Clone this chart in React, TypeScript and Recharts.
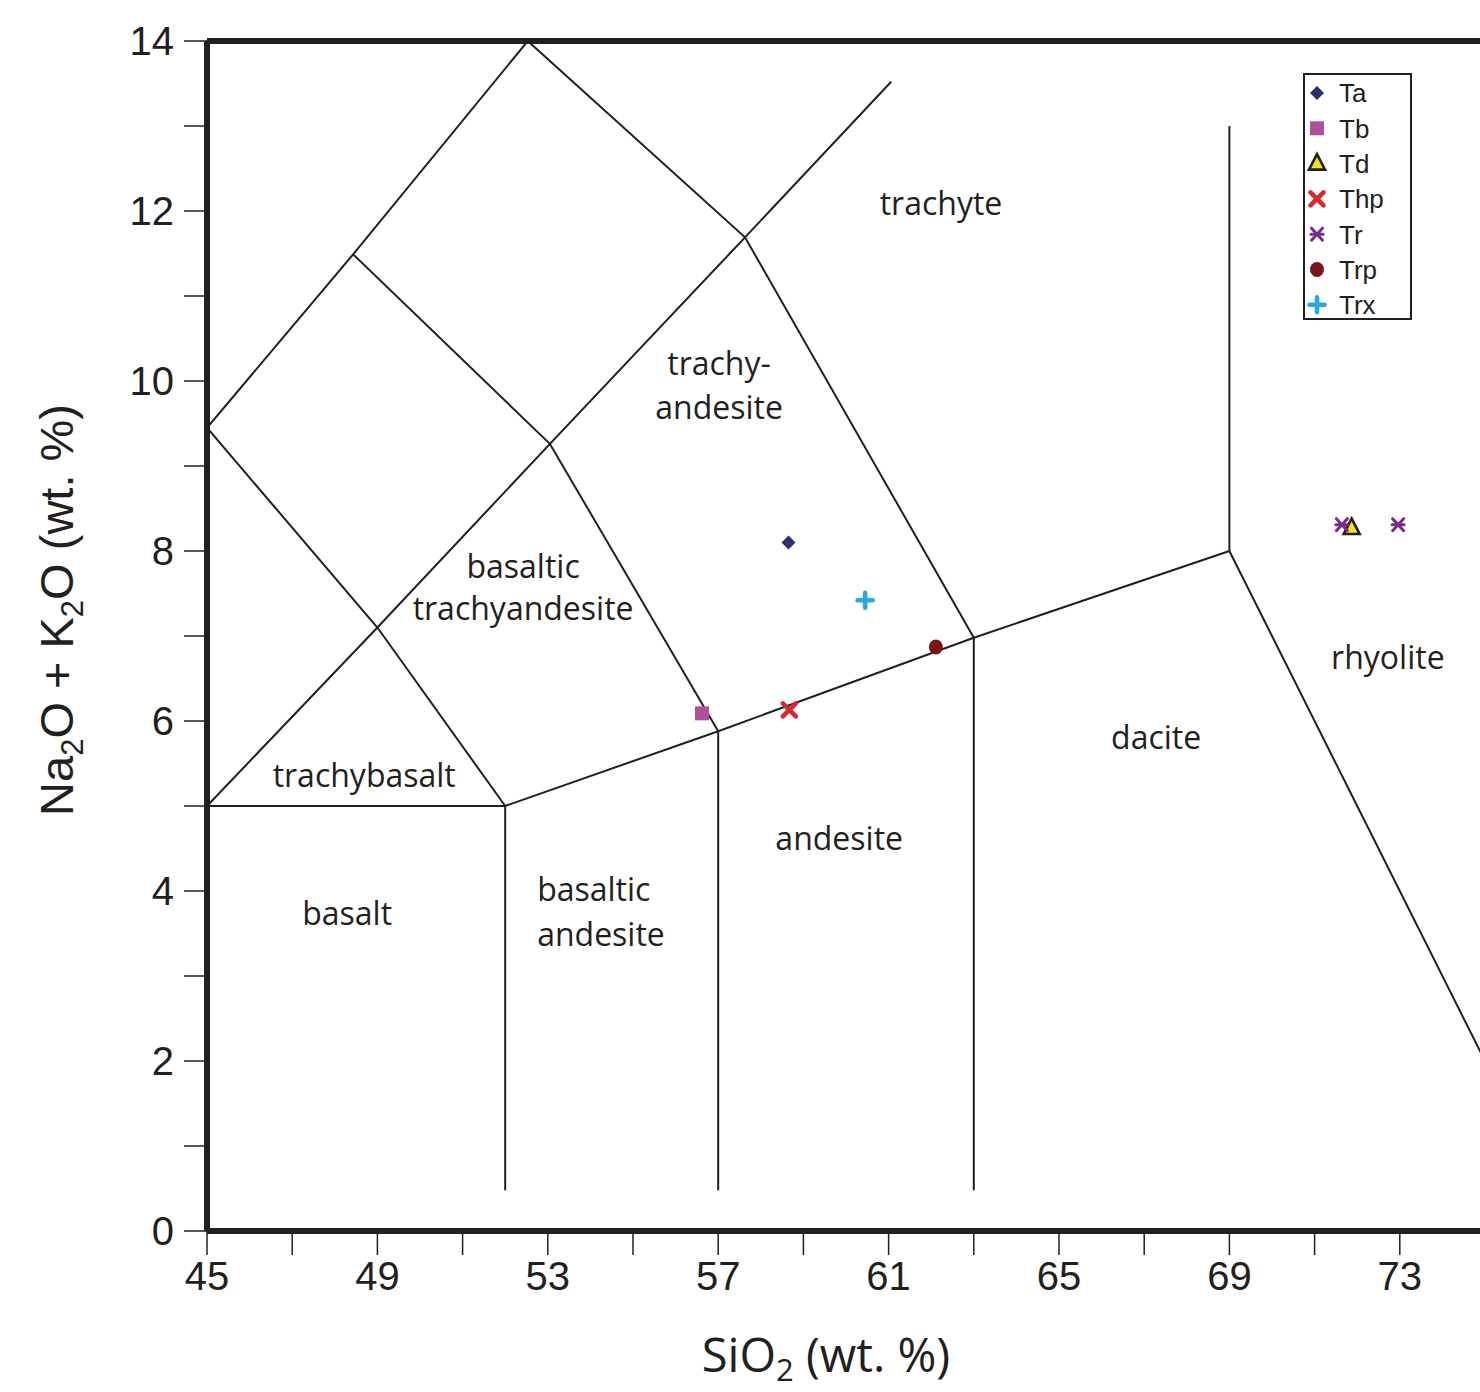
import React from 'react';
import { ScatterChart, Scatter, XAxis, YAxis, ReferenceLine, Legend } from 'recharts';

const INK = '#231f20';
const SANS = '"Liberation Sans", Arial, Helvetica, sans-serif';
const HUMANIST = '"Open Sans", "Noto Sans", sans-serif';

// ---- axis ticks ----
const xTicks = [45, 47, 49, 51, 53, 55, 57, 59, 61, 63, 65, 67, 69, 71, 73, 75];
const xTickLabels = [45, 49, 53, 57, 61, 65, 69, 73];
const yTicks = [0, 1, 2, 3, 4, 5, 6, 7, 8, 9, 10, 11, 12, 13, 14];
const yTickLabels = [0, 2, 4, 6, 8, 10, 12, 14];

// ---- TAS field boundaries (SiO2, Na2O+K2O) ----
const bBasaltTop = [{ x: 45, y: 5 }, { x: 52, y: 5 }];
const bV52 = [{ x: 52, y: 5 }, { x: 52, y: 0.48 }];
const bV57 = [{ x: 57, y: 5.88 }, { x: 57, y: 0.48 }];
const bV63 = [{ x: 63, y: 6.98 }, { x: 63, y: 0.48 }];
const bAlkaline = [{ x: 52, y: 5 }, { x: 57, y: 5.88 }, { x: 63, y: 6.98 }, { x: 69, y: 8 }];
const bV69 = [{ x: 69, y: 8 }, { x: 69, y: 13 }];
const bRhyoliteDacite = [{ x: 69, y: 8 }, { x: 75, y: 2 }];
const bTrachyteLeft = [{ x: 52.53, y: 14 }, { x: 57.63, y: 11.69 }, { x: 63, y: 6.98 }];
const bUpperDiag = [{ x: 45, y: 5 }, { x: 49, y: 7.1 }, { x: 53.05, y: 9.26 }, { x: 57.63, y: 11.69 }, { x: 61.06, y: 13.52 }];
const bBtaRight = [{ x: 53.05, y: 9.26 }, { x: 57, y: 5.88 }];
const bMidDiag = [{ x: 48.43, y: 11.49 }, { x: 53.05, y: 9.26 }];
const bLeftUpper = [{ x: 45, y: 9.45 }, { x: 48.43, y: 11.49 }, { x: 52.53, y: 14 }];
const bLeftLower = [{ x: 45, y: 9.45 }, { x: 49, y: 7.1 }, { x: 52, y: 5 }];

const boundaries = [
  bBasaltTop, bV52, bV57, bV63, bAlkaline, bV69, bRhyoliteDacite,
  bTrachyteLeft, bUpperDiag, bBtaRight, bMidDiag, bLeftUpper, bLeftLower,
];

// ---- field names ----
const regionLabels = [
  { x: 62.23, y: 12.08, text: 'trachyte', anchor: 'middle' },
  { x: 57.02, y: 10.2, text: 'trachy-', anchor: 'middle' },
  { x: 57.02, y: 9.69, text: 'andesite', anchor: 'middle' },
  { x: 52.42, y: 7.82, text: 'basaltic', anchor: 'middle' },
  { x: 52.42, y: 7.32, text: 'trachyandesite', anchor: 'middle' },
  { x: 48.69, y: 5.36, text: 'trachybasalt', anchor: 'middle' },
  { x: 48.29, y: 3.73, text: 'basalt', anchor: 'middle' },
  { x: 52.75, y: 4.01, text: 'basaltic', anchor: 'start' },
  { x: 52.75, y: 3.49, text: 'andesite', anchor: 'start' },
  { x: 59.84, y: 4.62, text: 'andesite', anchor: 'middle' },
  { x: 67.28, y: 5.8, text: 'dacite', anchor: 'middle' },
  { x: 72.72, y: 6.74, text: 'rhyolite', anchor: 'middle' },
];

// ---- samples ----
const taData = [{ x: 58.65, y: 8.1 }];
const tbData = [{ x: 56.62, y: 6.09 }];
const tdData = [{ x: 71.87, y: 8.27 }];
const thpData = [{ x: 58.67, y: 6.13 }];
const trData = [{ x: 71.64, y: 8.31 }, { x: 72.96, y: 8.31 }];
const trpData = [{ x: 62.11, y: 6.87 }];
const trxData = [{ x: 60.45, y: 7.42 }];

type Sym = 'diamond' | 'square' | 'triangle' | 'x' | 'asterisk' | 'circle' | 'plus';

const seriesNames = ['Ta', 'Tb', 'Td', 'Thp', 'Tr', 'Trp', 'Trx'];
const seriesColors = ['#2e2f72', '#b04f9c', '#f2e51d', '#d7282f', '#7b2a8c', '#7a1419', '#27a8e0'];
const seriesSymbols: Sym[] = ['diamond', 'square', 'triangle', 'x', 'asterisk', 'circle', 'plus'];
const seriesData = [taData, tbData, tdData, thpData, trData, trpData, trxData];

function drawSymbol(sym: Sym, color: string, cx: number, cy: number) {
  switch (sym) {
    case 'diamond':
      return <polygon points={`${cx},${cy - 7} ${cx + 7},${cy} ${cx},${cy + 7} ${cx - 7},${cy}`} fill={color} />;
    case 'square':
      return <rect x={cx - 7} y={cy - 7} width={14} height={14} fill={color} />;
    case 'triangle':
      return (
        <polygon
          points={`${cx},${cy - 9.5} ${cx + 8},${cy + 6} ${cx - 8},${cy + 6}`}
          fill={color}
          stroke={INK}
          strokeWidth={2.6}
          strokeLinejoin="miter"
        />
      );
    case 'x':
      return (
        <g stroke={color} strokeWidth={4.6} strokeLinecap="round">
          <line x1={cx - 6.5} y1={cy - 6.5} x2={cx + 6.5} y2={cy + 6.5} />
          <line x1={cx - 6.5} y1={cy + 6.5} x2={cx + 6.5} y2={cy - 6.5} />
        </g>
      );
    case 'asterisk':
      return (
        <g stroke={color} strokeWidth={3} strokeLinecap="round">
          <line x1={cx - 5.5} y1={cy - 6} x2={cx + 5.5} y2={cy + 6} />
          <line x1={cx - 5.5} y1={cy + 6} x2={cx + 5.5} y2={cy - 6} />
          <line x1={cx - 6} y1={cy} x2={cx + 6} y2={cy} />
        </g>
      );
    case 'circle':
      return <ellipse cx={cx} cy={cy} rx={7} ry={7.5} fill={color} />;
    case 'plus':
      return (
        <g stroke={color} strokeWidth={4.6} strokeLinecap="round">
          <line x1={cx - 7.5} y1={cy} x2={cx + 7.5} y2={cy} />
          <line x1={cx} y1={cy - 7.5} x2={cx} y2={cy + 7.5} />
        </g>
      );
  }
  return <g />;
}

const emptyShape = () => <g />;

const renderRegionLabel = (props: any) => {
  const { cx, cy, payload } = props;
  return (
    <text
      x={cx}
      y={cy}
      dy="0.35em"
      textAnchor={payload.anchor}
      fontFamily={HUMANIST}
      fontSize={32}
      fill={INK}
    >
      {payload.text}
    </text>
  );
};

const LegendBox = () => {
  const w = 109;
  const h = 247;
  return (
    <svg width={w} height={h} style={{ display: 'block' }}>
      <rect x={1} y={1} width={w - 2} height={h - 2} fill="#fff" stroke={INK} strokeWidth={2} />
      {seriesNames.map((name, i) => {
        const cy = 20 + i * 35.3;
        return (
          <g key={name}>
            {drawSymbol(seriesSymbols[i], seriesColors[i], 14, cy)}
            <text x={36} y={cy} dy="0.36em" fontFamily={SANS} fontSize={26} fill={INK}>
              {name}
            </text>
          </g>
        );
      })}
    </svg>
  );
};

const XTitle = (props: any) => {
  const vb = props.viewBox || { x: 206, y: 1231, width: 1278 };
  return (
    <text x={826} y={vb.y + 141} textAnchor="middle" fontFamily={HUMANIST} fontSize={47} fill={INK}>
      SiO
      <tspan fontSize={31} dy={9}>2</tspan>
      <tspan dy={-9}> (wt. %)</tspan>
    </text>
  );
};

const YTitle = () => {
  const cx = 73;
  const cy = 610;
  return (
    <text
      x={cx}
      y={cy}
      textAnchor="middle"
      transform={`rotate(-90, ${cx}, ${cy})`}
      fontFamily={SANS}
      fontSize={47}
      fill={INK}
    >
      Na
      <tspan fontSize={31} dy={10}>2</tspan>
      <tspan dy={-10}>O + K</tspan>
      <tspan fontSize={31} dy={10}>2</tspan>
      <tspan dy={-10}>O (wt. %)</tspan>
    </text>
  );
};

export default function App() {
  return (
    <div
      style={{
        position: 'absolute',
        left: 0,
        top: 0,
        width: 1480,
        height: 1392,
        overflow: 'hidden',
        background: '#fff',
      }}
    >
      <ScatterChart width={1485} height={1392} margin={{ top: 41, right: 0, bottom: 0, left: 1 }}>
        <XAxis
          type="number"
          dataKey="x"
          domain={[45, 75]}
          ticks={xTicks}
          allowDataOverflow
          interval={0}
          height={161}
          tickSize={24}
          tickMargin={7}
          axisLine={{ stroke: INK, strokeWidth: 6 }}
          tickLine={{ stroke: INK, strokeWidth: 1.5 }}
          tick={{ fill: INK, fontSize: 40, fontFamily: SANS }}
          tickFormatter={(v: number) => (xTickLabels.includes(v) ? String(v) : '')}
          label={<XTitle />}
        />
        <YAxis
          type="number"
          dataKey="y"
          domain={[0, 14]}
          ticks={yTicks}
          allowDataOverflow
          interval={0}
          width={206}
          tickSize={23}
          tickMargin={10}
          axisLine={{ stroke: INK, strokeWidth: 6 }}
          tickLine={{ stroke: INK, strokeWidth: 1.5 }}
          tick={{ fill: INK, fontSize: 40, fontFamily: SANS }}
          tickFormatter={(v: number) => (yTickLabels.includes(v) ? String(v) : '')}
          label={<YTitle />}
        />
        <ReferenceLine y={14} stroke={INK} strokeWidth={6} ifOverflow="visible" />
        {boundaries.map((b, i) => (
          <Scatter
            key={`b${i}`}
            data={b}
            line={{ stroke: INK, strokeWidth: 2 }}
            lineType="joint"
            shape={emptyShape}
            legendType="none"
            isAnimationActive={false}
          />
        ))}
        <Scatter
          data={regionLabels}
          shape={renderRegionLabel}
          legendType="none"
          isAnimationActive={false}
        />
        {seriesNames.map((name, i) => (
          <Scatter
            key={name}
            name={name}
            data={seriesData[i]}
            fill={seriesColors[i]}
            shape={(p: any) => drawSymbol(seriesSymbols[i], seriesColors[i], p.cx, p.cy)}
            isAnimationActive={false}
          />
        ))}
        <Legend
          layout="vertical"
          align="center"
          verticalAlign="middle"
          wrapperStyle={{ top: 73, left: 1303, width: 109, height: 247 }}
          content={() => <LegendBox />}
        />
      </ScatterChart>
    </div>
  );
}
